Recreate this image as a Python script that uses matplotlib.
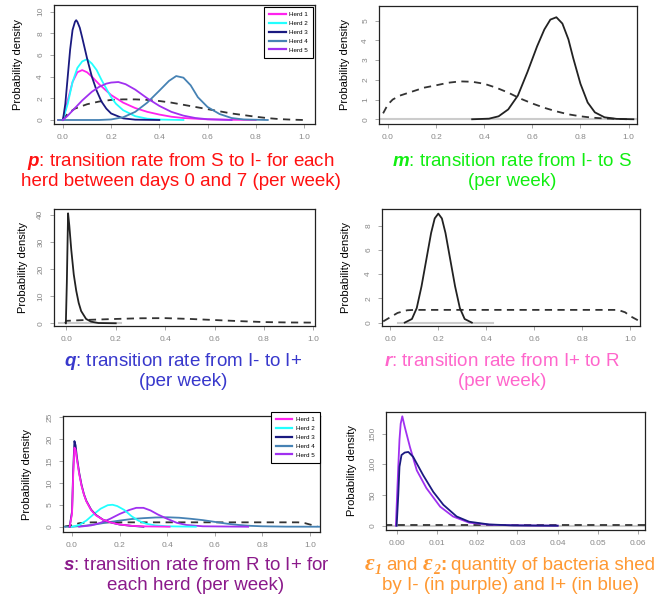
import matplotlib
matplotlib.use('Agg')
import matplotlib.pyplot as plt
from matplotlib.transforms import IdentityTransform

plt.rcParams['font.family'] = ['Liberation Sans', 'DejaVu Sans']
plt.rcParams['mathtext.fontset'] = 'custom'
plt.rcParams['mathtext.rm'] = 'Liberation Sans'
plt.rcParams['mathtext.bfit'] = 'Liberation Sans:italic:bold'

# ---- data (x values, density values) ----
herd_labels = ['Herd 1', 'Herd 2', 'Herd 3', 'Herd 4', 'Herd 5']
herd_colors = ['#ff22ee', '#22ffff', '#1a1a80', '#4682b4', '#a030f0']

# p panel
p_h1_x = [-0.02, 0.0, 0.02, 0.04, 0.06, 0.08, 0.10, 0.12, 0.15, 0.20, 0.25, 0.30, 0.35, 0.40, 0.45, 0.50, 0.60, 0.70, 0.80]
p_h1_y = [0, 0, 1.8, 3.5, 4.4, 4.6, 4.4, 4.0, 3.3, 2.3, 1.6, 1.1, 0.75, 0.5, 0.3, 0.18, 0.06, 0.02, 0]
p_h2_x = [0.0, 0.02, 0.04, 0.06, 0.08, 0.10, 0.12, 0.14, 0.16, 0.18, 0.20, 0.22, 0.25, 0.30, 0.35, 0.40, 0.50]
p_h2_y = [0, 1.5, 3.5, 4.8, 5.4, 5.6, 5.2, 4.6, 3.7, 2.9, 2.1, 1.5, 0.9, 0.35, 0.12, 0.04, 0]
p_h3_x = [0.0, 0.01, 0.02, 0.03, 0.04, 0.05, 0.055, 0.06, 0.07, 0.08, 0.10, 0.12, 0.14, 0.16, 0.18, 0.20, 0.25, 0.30, 0.40]
p_h3_y = [0, 1.5, 4.0, 6.5, 8.3, 9.05, 9.2, 9.05, 8.5, 7.6, 5.7, 4.0, 2.7, 1.7, 1.05, 0.6, 0.15, 0.03, 0]
p_h4_x = [-0.02, 0.15, 0.20, 0.25, 0.30, 0.35, 0.40, 0.44, 0.47, 0.50, 0.53, 0.56, 0.60, 0.65, 0.70, 0.75, 0.85]
p_h4_y = [0, 0, 0.05, 0.25, 0.75, 1.6, 2.7, 3.6, 4.05, 3.9, 3.2, 2.1, 1.2, 0.55, 0.18, 0.05, 0]
p_h5_x = [0.0, 0.02, 0.05, 0.08, 0.10, 0.12, 0.15, 0.18, 0.20, 0.23, 0.26, 0.30, 0.35, 0.40, 0.45, 0.50, 0.55, 0.60, 0.70]
p_h5_y = [0, 0.4, 1.1, 1.8, 2.2, 2.6, 3.05, 3.35, 3.45, 3.5, 3.3, 2.8, 2.0, 1.3, 0.75, 0.4, 0.18, 0.07, 0]
p_prior_x = [0.0, 0.02, 0.05, 0.10, 0.15, 0.20, 0.25, 0.30, 0.35, 0.40, 0.45, 0.50, 0.55, 0.60, 0.65, 0.70, 0.75, 0.80, 0.85, 0.90, 0.95, 1.0]
p_prior_y = [0, 0.6, 1.05, 1.45, 1.7, 1.85, 1.9, 1.9, 1.85, 1.75, 1.6, 1.4, 1.2, 1.0, 0.8, 0.6, 0.45, 0.3, 0.17, 0.08, 0.03, 0]

# m panel
m_post_x = [0.35, 0.42, 0.46, 0.50, 0.54, 0.58, 0.62, 0.65, 0.675, 0.70, 0.725, 0.75, 0.77, 0.80, 0.83, 0.86, 0.90, 0.95, 1.02]
m_post_y = [0, 0.03, 0.15, 0.5, 1.2, 2.4, 3.7, 4.55, 5.05, 5.17, 4.85, 4.05, 3.1, 1.8, 0.85, 0.35, 0.1, 0.02, 0]
m_prior_x = [-0.02, 0.0, 0.02, 0.05, 0.10, 0.15, 0.20, 0.25, 0.30, 0.35, 0.40, 0.45, 0.50, 0.55, 0.60, 0.65, 0.70, 0.75, 0.80, 0.85, 0.90, 0.95, 1.0]
m_prior_y = [0.3, 0.75, 1.0, 1.2, 1.4, 1.6, 1.72, 1.85, 1.92, 1.9, 1.8, 1.6, 1.35, 1.05, 0.8, 0.58, 0.4, 0.25, 0.15, 0.08, 0.04, 0.02, 0]
m_gray_x = [-0.04, 1.04]

# q panel
q_post_x = [-0.002, 0.002, 0.007, 0.012, 0.02, 0.03, 0.04, 0.05, 0.06, 0.08, 0.10, 0.13, 0.20]
q_post_y = [0, 15, 40.5, 36, 27, 18, 12, 7.5, 4.5, 1.6, 0.6, 0.1, 0]
q_prior_x = [-0.005, 0.0, 0.05, 0.10, 0.20, 0.30, 0.40, 0.50, 0.60, 0.70, 0.80, 0.90, 1.0, 1.05]
q_prior_y = [0, 0.9, 1.1, 1.3, 1.6, 1.85, 1.9, 1.6, 1.2, 0.8, 0.45, 0.3, 0.25, 0.2]
q_gray_x = [-0.03, 0.22]

# r panel
r_post_x = [0.06, 0.09, 0.11, 0.13, 0.15, 0.17, 0.185, 0.20, 0.215, 0.23, 0.25, 0.27, 0.29, 0.31, 0.34]
r_post_y = [0, 0.3, 1.2, 3.0, 5.2, 7.4, 8.6, 9.0, 8.6, 7.4, 5.2, 3.0, 1.2, 0.3, 0]
r_prior_x = [-0.03, 0.0, 0.03, 0.07, 0.10, 0.95, 0.98, 1.0, 1.04]
r_prior_y = [0.1, 0.45, 0.8, 1.02, 1.05, 1.05, 0.85, 0.55, 0.12]
r_gray_x = [0.03, 0.43]

# s panel
s_h1_x = [-0.01, 0.0, 0.005, 0.01, 0.015, 0.02, 0.03, 0.04, 0.05, 0.06, 0.08, 0.10, 0.13, 0.16, 0.20, 0.25, 0.30, 0.41]
s_h1_y = [0, 3, 12, 18, 17.5, 15.5, 12, 9.3, 7.3, 5.8, 3.8, 2.6, 1.6, 1.0, 0.5, 0.2, 0.08, 0]
s_h2_x = [0.0, 0.03, 0.06, 0.09, 0.12, 0.15, 0.17, 0.19, 0.22, 0.25, 0.28, 0.31, 0.35, 0.40, 0.52]
s_h2_y = [0, 0.4, 1.4, 2.8, 4.1, 4.9, 5.0, 4.7, 3.8, 2.4, 1.35, 0.7, 0.3, 0.1, 0]
s_h3_x = [-0.01, 0.0, 0.005, 0.01, 0.015, 0.02, 0.03, 0.04, 0.05, 0.06, 0.08, 0.10, 0.13, 0.16, 0.20, 0.25, 0.30]
s_h3_y = [0, 3.5, 13, 19.5, 18.5, 16, 12.3, 9.5, 7.4, 5.9, 3.9, 2.7, 1.6, 1.0, 0.5, 0.2, 0]
s_h4_x = [-0.03, 0.0, 0.05, 0.10, 0.15, 0.20, 0.25, 0.30, 0.35, 0.40, 0.45, 0.50, 0.55, 0.60, 0.65, 0.70, 0.75, 0.80, 0.90, 1.04]
s_h4_y = [0, 0, 0.2, 0.55, 1.0, 1.4, 1.75, 1.95, 2.1, 2.15, 2.05, 1.8, 1.5, 1.1, 0.7, 0.4, 0.2, 0.1, 0.02, 0]
s_h5_x = [0.03, 0.08, 0.12, 0.16, 0.20, 0.24, 0.27, 0.30, 0.33, 0.36, 0.40, 0.44, 0.48, 0.55, 0.74]
s_h5_y = [0, 0.3, 0.9, 1.8, 2.9, 3.8, 4.3, 4.3, 3.7, 2.8, 1.8, 0.9, 0.4, 0.1, 0]
s_prior_x = [-0.03, 0.0, 0.03, 0.07, 0.10, 0.95, 0.98, 1.0, 1.03]
s_prior_y = [0.05, 0.35, 0.8, 0.98, 1.0, 1.0, 0.8, 0.5, 0.1]

# epsilon panel
e1_x = [-0.0002, 0.0004, 0.0007, 0.001, 0.0014, 0.002, 0.0033, 0.005, 0.0074, 0.0108, 0.014, 0.018, 0.023, 0.028, 0.033, 0.04]
e1_y = [0, 96, 140, 166, 178, 161, 128, 90, 61, 31, 15, 5, 1.6, 0.7, 0.3, 0]
e2_x = [0.0, 0.0004, 0.0007, 0.0012, 0.002, 0.0029, 0.0041, 0.0066, 0.0091, 0.0116, 0.0149, 0.018, 0.023, 0.029, 0.04]
e2_y = [0, 50, 96, 115, 119, 120, 112, 82, 55, 34, 15, 6.5, 2, 0.5, 0]
e_prior_x = [-0.003, 0.062]
e_prior_y = [1.5, 1.5]

W, H = 658, 598
CAP = 13.5
fig = plt.figure(figsize=(W / 100, H / 100), dpi=100)


def px_axes(l, t, r, b):
    return fig.add_axes([l / W, 1 - b / H, (r - l) / W, (b - t) / H])


def style(ax, xlim, ylim, xticks, yticks, xfmt):
    ax.set_xlim(xlim)
    ax.set_ylim(ylim)
    ax.set_xticks(xticks)
    ax.set_xticklabels([xfmt % v for v in xticks])
    ax.set_yticks(yticks)
    ax.set_yticklabels([str(v) for v in yticks], rotation=90, va='center')
    ax.tick_params(length=3, width=0.6, color='#999999', labelcolor='#888888',
                   labelsize=6, pad=4)
    for sp in ax.spines.values():
        sp.set_linewidth(0.9)
        sp.set_color('#222222')


def ylab(x, t, b):
    fig.text(x / W, 1 - (t + b) / 2 / H, 'Probability density', rotation=90,
             ha='center', va='center', fontsize=8)


def caption(cx, y, s, color):
    fig.text(cx / W, 1 - y / H, s, ha='center', va='center', fontsize=CAP, color=color)


def herd_legend(ax, handles, anchor):
    leg = ax.legend(handles, herd_labels, loc='upper right', bbox_to_anchor=anchor, fontsize=4.5,
                    handlelength=2.6, labelspacing=0.55, borderpad=0.8, handletextpad=0.6,
                    fancybox=False, edgecolor='black', framealpha=1, borderaxespad=0)
    leg.get_frame().set_linewidth(0.8)
    for ln in leg.get_lines():
        ln.set_linewidth(1.6)


dash = dict(color='#333333', lw=1.3, dashes=(4, 3))
solid = dict(color='#222222', lw=1.3)
gray = dict(color='#cccccc', lw=1.5)
xt = [0.0, 0.2, 0.4, 0.6, 0.8, 1.0]

# p
ax1 = px_axes(54, 5, 315, 124)
ax1.plot(p_prior_x, p_prior_y, **dash)
p_series = [(p_h1_x, p_h1_y), (p_h2_x, p_h2_y), (p_h3_x, p_h3_y), (p_h4_x, p_h4_y), (p_h5_x, p_h5_y)]
p_lines = []
for (xs, ys), c in zip(p_series, herd_colors):
    p_lines += ax1.plot(xs, ys, color=c, lw=1.3)
style(ax1, (-0.037, 1.046), (-0.37, 10.6), xt, [0, 2, 4, 6, 8, 10], '%.1f')
herd_legend(ax1, p_lines, (1 - 2 / 261, 1 - 2 / 119))
ylab(18, 5, 124)
caption(181, 162, r'$\mathbfit{p}$: transition rate from S to I- for each', '#ff1111')
caption(181, 182, 'herd between days 0 and 7 (per week)', '#ff1111')

# m
ax2 = px_axes(379, 6, 637, 124)
ax2.plot(m_gray_x, [0, 0], **gray)
ax2.plot(m_prior_x, m_prior_y, **dash)
ax2.plot(m_post_x, m_post_y, **solid)
style(ax2, (-0.037, 1.035), (-0.24, 5.74), xt, [0, 1, 2, 3, 4, 5], '%.1f')
ylab(345, 6, 124)
caption(512, 162, r'$\mathbfit{m}$: transition rate from I- to S', '#11ee11')
caption(512, 182, '(per week)', '#11ee11')

# q
ax3 = px_axes(54, 209, 315, 326)
ax3.plot(q_gray_x, [0, 0], **gray)
ax3.plot(q_prior_x, q_prior_y, **dash)
ax3.plot(q_post_x, q_post_y, **solid)
style(ax3, (-0.05, 1.007), (-1.0, 42.1), xt, [0, 10, 20, 30, 40], '%.1f')
ylab(23, 209, 326)
caption(183, 362, r'$\mathbfit{q}$: transition rate from I- to I+', '#3838cc')
caption(183, 382, '(per week)', '#3838cc')

# r
ax4 = px_axes(382, 209, 640, 326)
ax4.plot(r_gray_x, [0, 0], **gray)
ax4.plot(r_prior_x, r_prior_y, **dash)
ax4.plot(r_post_x, r_post_y, **solid)
style(ax4, (-0.035, 1.042), (-0.28, 9.38), xt, [0, 2, 4, 6, 8], '%.1f')
ylab(346, 209, 326)
caption(502, 362, r'$\mathbfit{r}$: transition rate from I+ to R', '#ff66cc')
caption(502, 382, '(per week)', '#ff66cc')

# s
ax5 = px_axes(63, 416, 320, 532)
s_series = [(s_h1_x, s_h1_y), (s_h2_x, s_h2_y), (s_h3_x, s_h3_y), (s_h4_x, s_h4_y), (s_h5_x, s_h5_y)]
ax5.plot(s_prior_x, s_prior_y, **dash)
s_lines = [None] * 5
for i in [3, 4, 1, 2, 0]:
    xs, ys = s_series[i]
    s_lines[i], = ax5.plot(xs, ys, color=herd_colors[i], lw=1.3, zorder=3)
style(ax5, (-0.038, 1.042), (-1.2, 25.2), xt, [0, 5, 10, 15, 20, 25], '%.1f')
herd_legend(ax5, s_lines, (1.0, 1 + 4 / 116))
ylab(27, 416, 532)
caption(196, 565, r'$\mathbfit{s}$: transition rate from R to I+ for', '#8b1a8b')
caption(196, 585, 'each herd (per week)', '#8b1a8b')

# epsilon
ax6 = px_axes(386, 412, 645, 530)
ax6.plot(e_prior_x, [0, 0], **gray)
ax6.plot(e_prior_x, e_prior_y, **dash)
ax6.plot(e1_x, e1_y, color='#a030f0', lw=1.3)
ax6.plot(e2_x, e2_y, color='#1a1a80', lw=1.3)
style(ax6, (-0.00265, 0.0617), (-7, 185), [0.0, 0.01, 0.02, 0.03, 0.04, 0.05, 0.06],
      [0, 50, 100, 150], '%.2f')
ylab(352, 412, 530)

# first caption line of the epsilon panel, built from pieces
eps_font = dict(family='Liberation Serif', style='italic', weight='bold')
pieces = [('ε', dict(eps_font, size=17), 0, 0),
          ('1', dict(eps_font, size=10), -4, 5),
          ('and', dict(size=CAP), 0, 5),
          ('ε', dict(eps_font, size=17), 0, 0),
          ('2', dict(eps_font, size=10), -4, 0),
          (':', dict(size=CAP, weight='bold'), 0, 5),
          ('quantity of bacteria shed', dict(size=CAP), 0, 0)]
renderer = fig.canvas.get_renderer()
base_y = H - 570
objs = []
total = 0
for s, kw, dy, gap in pieces:
    t = fig.text(0, base_y + dy, s, color='#ff9933', va='baseline', ha='left',
                 transform=IdentityTransform(), **kw)
    w = t.get_window_extent(renderer).width
    objs.append((t, w, gap))
    total += w + gap
x0 = 510 - total / 2
for t, w, gap in objs:
    t.set_x(x0)
    x0 += w + gap
caption(510, 585, 'by I- (in purple) and I+ (in blue)', '#ff9933')

fig.savefig('out.png', dpi=100)
